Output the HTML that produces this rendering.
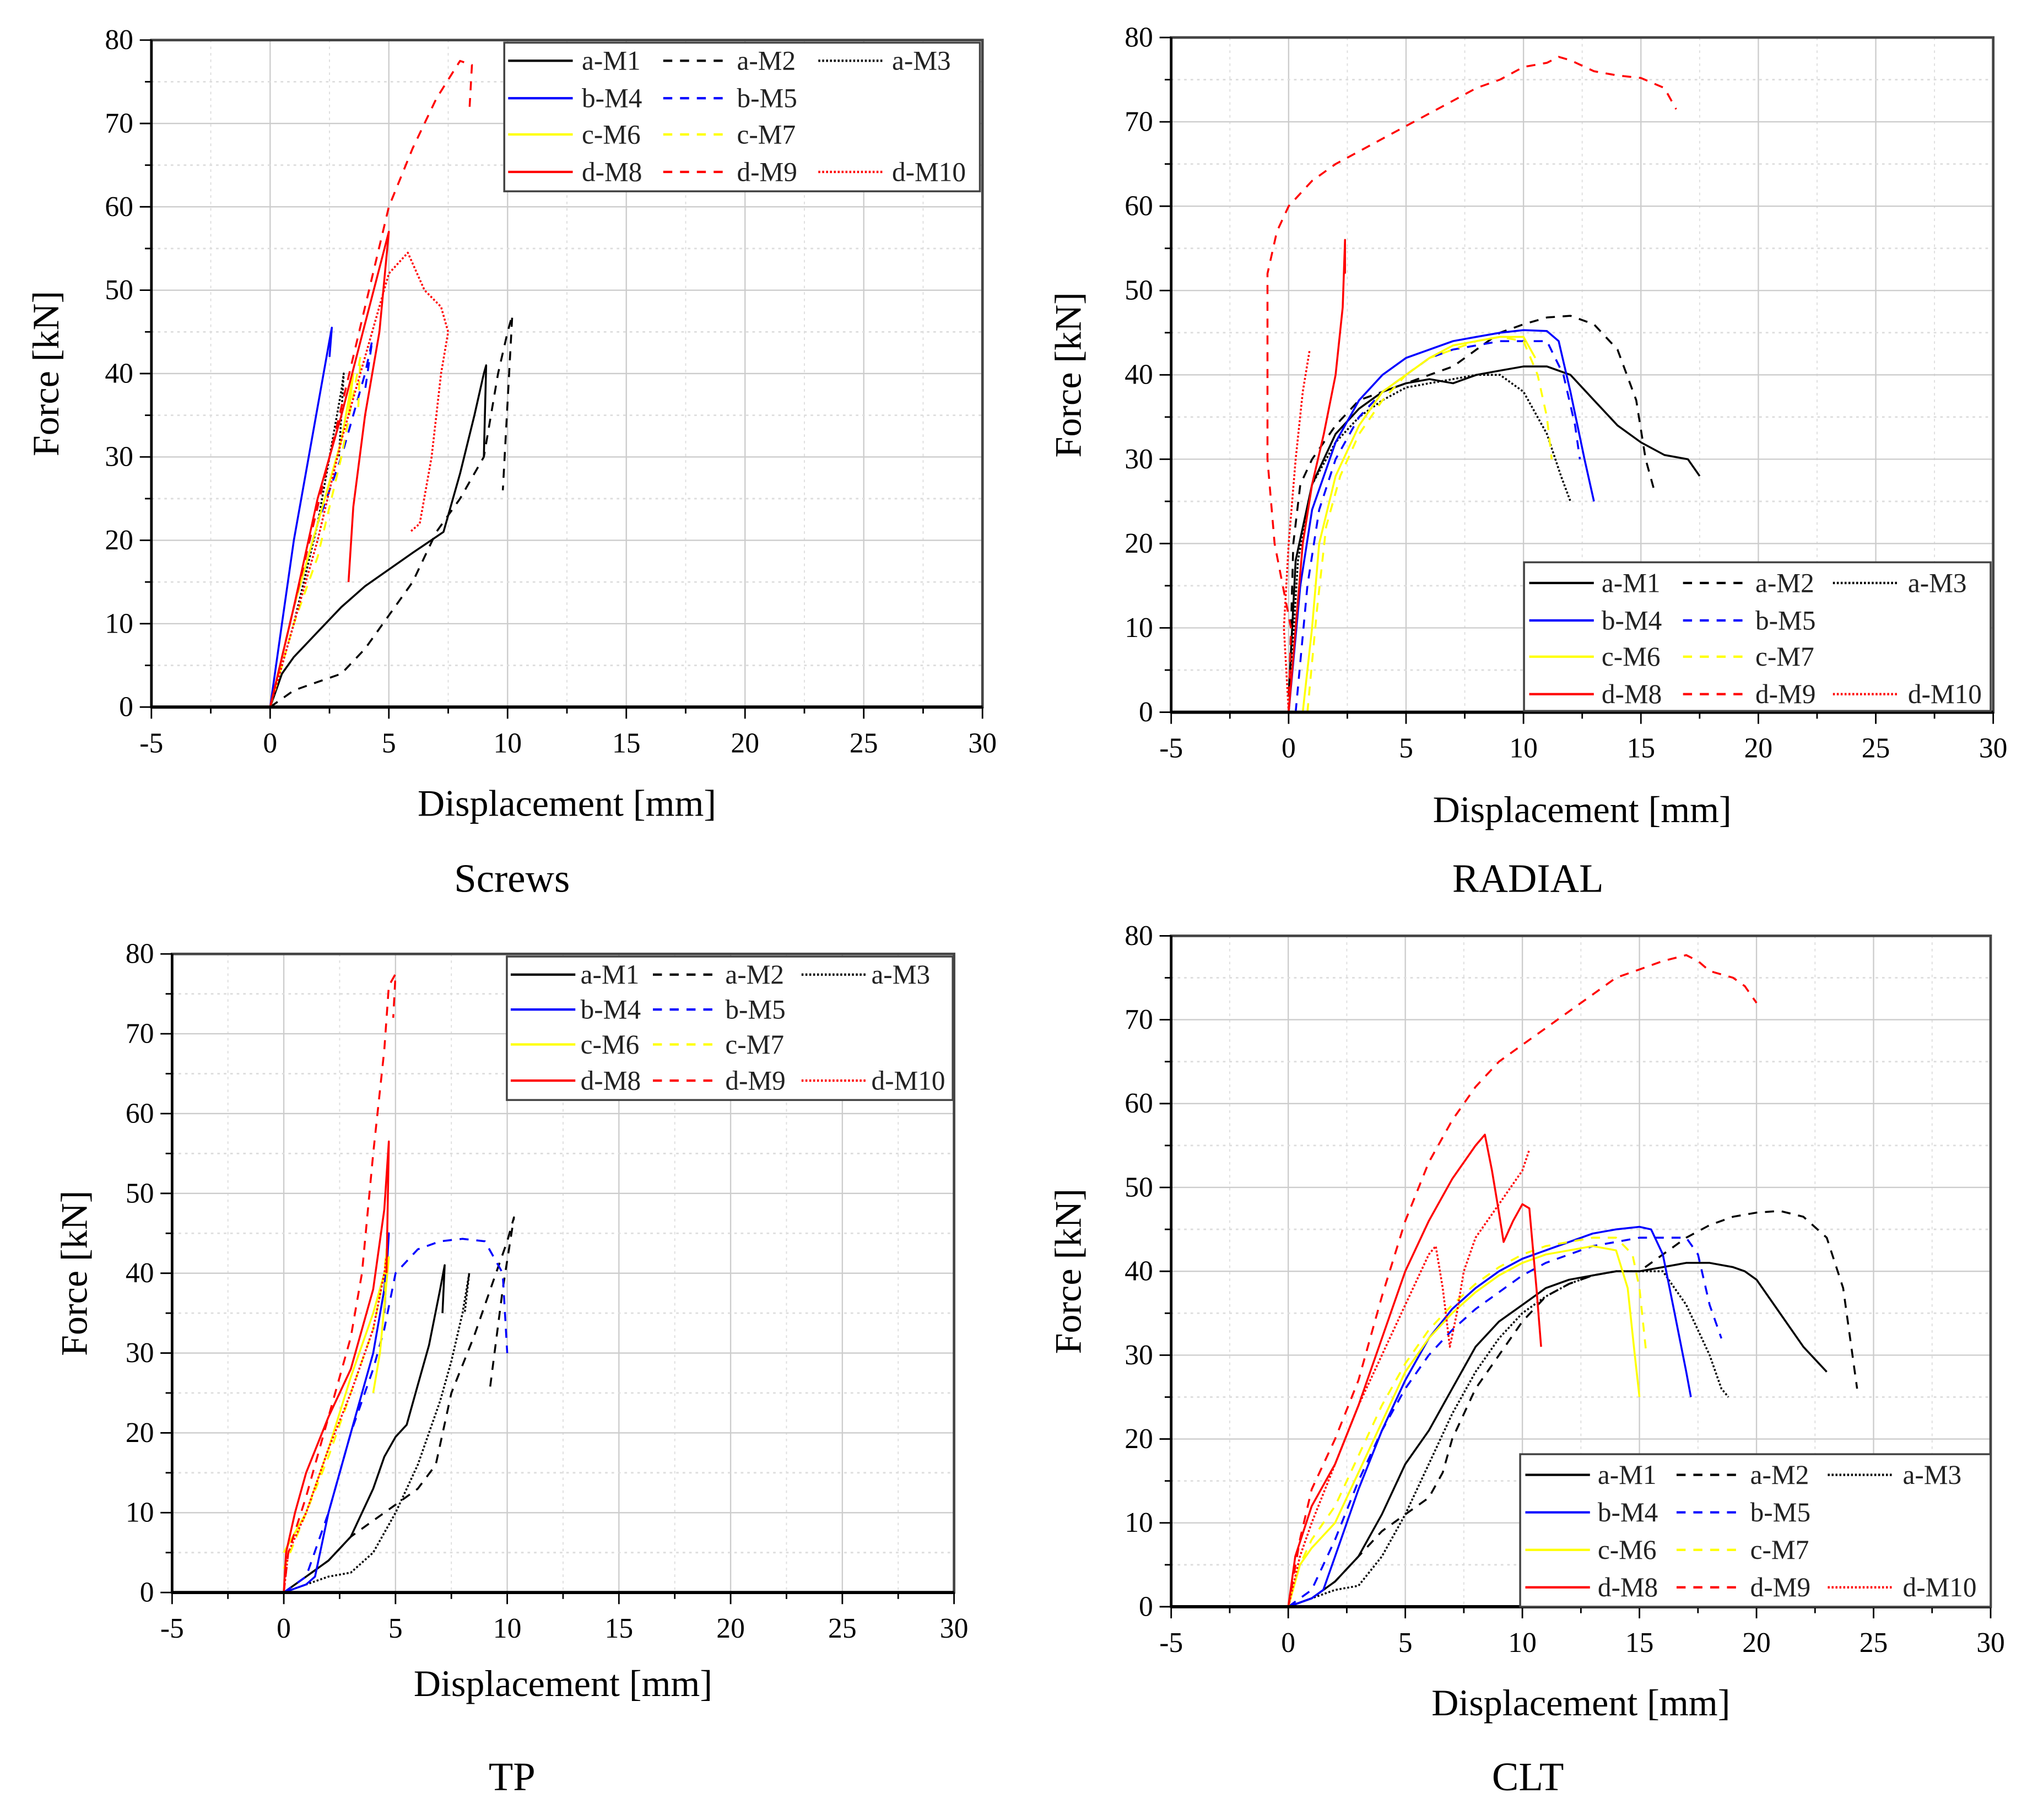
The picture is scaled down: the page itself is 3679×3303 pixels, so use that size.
<!DOCTYPE html>
<html><head><meta charset="utf-8"><style>
html,body{margin:0;padding:0;background:#fff;}
svg{display:block;}
svg text{font-family:"Liberation Serif","Times New Roman","DejaVu Serif",serif;}
</style></head><body>
<svg id="fig" width="3679" height="3303" viewBox="0 0 1568 1408" xmlns="http://www.w3.org/2000/svg"></svg>
<script>
// ---- data: [displacement mm, force kN] ----
const scrM1=[[0,0],[0.5,4],[1,6],[2,9],[3,12],[4,14.5],[5,16.5],[6,18.5],[7.3,21],[8,28],[8.6,35],[9,40],[9.1,41],[9,30]];
const scrM2=[[0,0],[1,2],[2,3],[3,4],[4,7],[5,11],[6,15],[7,21],[8,25],[9,30],[9.6,40],[10,45],[10.2,47],[9.8,26]];
const scrM3=[[0,0],[1,10],[2,22],[3,38],[3.1,40],[2.9,30]];
const scrM4=[[0,0],[0.5,10],[1,20],[1.5,28],[2,36],[2.5,44],[2.6,45.5],[2.5,42]];
const scrM5=[[0,0],[1,12],[2,22],[3,30],[4,40],[4.3,44],[4,38]];
const scrM6=[[0,0],[1,12],[2,22],[3,32],[3.5,40],[3.3,35]];
const scrM7=[[0,0],[1,10],[2,18],[3,30],[3.8,42],[3.7,35]];
const scrM8=[[0,0],[1,12],[2,25],[3,35],[4,46],[5,57],[4.6,45],[4,35],[3.5,24],[3.3,15]];
const scrM9=[[0,0],[1,12],[2,24],[3,36],[4,48],[5,60],[6,67],[7,73],[8,77.5],[8.5,77],[8.4,72]];
const scrM10=[[0,0],[1,10],[2,20],[3,32],[4,42],[5,52],[5.8,54.5],[6.5,50],[7.2,48],[7.5,45],[7.2,40],[6.8,30],[6.3,22],[5.9,21]];

const radM1=[[0,2],[0.3,18],[1,27],[2,33],[3,36],[4,38],[5,39],[6,39.5],[7,39],[8,40],[9,40.5],[10,41],[11,41],[12,40],[13,37],[14,34],[15,32],[16,30.5],[17,30],[17.5,28]];
const radM2=[[0,0],[0.2,20],[0.5,27],[1,30],[2,34],[3,37],[4,38],[5,39],[6,40],[7,41],[8,43],[9,45],[10,46],[11,46.8],[12,47],[13,46],[14,43],[14.8,37],[15.2,30],[15.6,26]];
const radM3=[[0,0],[0.4,18],[1,27],[2,32],[3,35],[4,37],[5,38.5],[6,39],[7,39.5],[8,40],[9,40],[10,38],[11,33],[11.6,28],[12,25]];
const radM4=[[0,0],[0.5,15],[1,24],[2,32],[3,37],[4,40],[5,42],[6,43],[7,44],[8,44.5],[9,45],[10,45.3],[11,45.2],[11.5,44],[12,38],[12.6,30],[13,25]];
const radM5=[[0.3,0],[0.8,15],[1.3,24],[2,30],[3,35],[4,38],[5,40],[6,42],[7,43],[8,43.5],[9,44],[10,44],[11,44],[11.7,40],[12.2,34],[12.4,30]];
const radM6=[[0.6,0],[1,10],[1.3,20],[2,28],[3,34],[4,38],[5,40],[6,42],[7,43.5],[8,44],[9,44.5],[10,44.5],[10.5,42]];
const radM7=[[0.8,0],[1.2,12],[1.6,22],[2.2,28],[3,33],[4,37],[5,40],[6,42],[7,43],[8,44],[9,44.5],[10,44],[10.6,40],[11,35],[11.2,30]];
const radM8=[[0,0],[0.3,10],[0.6,20],[1,27],[1.5,33],[2,40],[2.3,48],[2.4,56],[2.4,52]];
const radM9=[[0,0],[0.1,10],[-0.6,20],[-0.9,30],[-0.9,40],[-0.9,52],[-0.5,57],[0,60],[1,63],[2,65],[3,66.5],[4,68],[5,69.5],[6,71],[7,72.5],[8,74],[9,75],[10,76.5],[11,77],[11.5,77.7],[12,77.3],[13,76],[14,75.5],[15,75.2],[16,74],[16.5,71.5]];
const radM10=[[0,0],[-0.2,10],[0,20],[0.3,30],[0.6,38],[0.9,43]];

const tpM1=[[0,0],[1,2],[2,4],[3,7],[4,13],[4.5,17],[5,19.5],[5.5,21],[6,26],[6.5,31],[7,38],[7.2,41],[7.1,35]];
const tpM2=[[0,0],[1,2],[2,4],[3,7],[4,9],[5,11],[6,13],[6.8,16],[7.5,25],[8.5,32],[9.5,40],[10,44],[10.3,47],[9.8,38],[9.2,25]];
const tpM3=[[0,0],[1,1],[2,2],[3,2.5],[4,5],[5,10],[6,16],[7,24],[7.5,29],[8,35],[8.3,40],[8.1,35]];
const tpM4=[[0,0],[1,1],[1.4,2],[2,10],[3,20],[4,30],[4.5,38],[4.7,45],[4.5,35]];
const tpM5=[[0,0],[1,2],[2,10],[3,20],[4,28],[4.5,33],[5,40],[6,43],[7,44],[8,44.3],[9,44],[9.8,40],[10,30]];
const tpM6=[[0,5],[1,10],[2,18],[3,27],[4,35],[4.5,40],[4.7,42],[4.3,30],[4,25]];
const tpM7=[[0,3],[1,10],[2,17],[3,25],[4,33],[4.5,40],[4.6,43],[4.5,35]];
const tpM8=[[0,0],[0.1,5],[0.5,10],[1,15],[2,22],[3,28],[4,38],[4.5,48],[4.7,56.5],[4.6,40]];
const tpM9=[[0,0],[0.2,5],[1,12],[2,22],[3,32],[3.5,40],[4,55],[4.5,68],[4.7,76],[5,77.5],[4.9,72]];
const tpM10=[[0,0],[0.2,5],[1,10],[2,18],[3,25],[4,33],[4.5,40],[4.6,42]];

const cltM1=[[0,0],[1,1],[2,3],[3,6],[4,11],[5,17],[6,21],[7,26],[8,31],[9,34],[10,36],[11,38],[12,39],[13,39.5],[14,40],[15,40],[16,40.5],[17,41],[18,41],[19,40.5],[19.5,40],[20,39],[21,35],[22,31],[23,28]];
const cltM2=[[0,0],[1,1],[2,3],[3,6],[4,9],[5,11],[6,13],[6.6,16],[7,20],[8,26],[9,30],[10,34],[11,37],[12,38.5],[13,39.5],[14,40],[15,40],[16,42],[17,44],[18,45.5],[19,46.5],[20,47],[21,47.2],[22,46.5],[23,44],[23.7,38],[24,32],[24.3,26]];
const cltM3=[[0,0],[1,1],[2,2],[3,2.5],[4,6],[5,11],[6,17],[7,23],[8,28],[9,32],[10,35],[11,37],[12,38.5],[13,39.5],[14,40],[15,40],[16,40],[17,36],[18,30],[18.5,26],[18.8,25]];
const cltM4=[[0,0],[1,1],[1.5,2],[2,6],[3,14],[4,21],[5,27],[6,32],[7,35.5],[8,38],[9,40],[10,41.5],[11,42.5],[12,43.5],[13,44.5],[14,45],[15,45.3],[15.5,45],[16,42],[16.5,35],[17,28],[17.2,25]];
const cltM5=[[0,0],[1,2],[2,8],[3,15],[4,21],[5,26],[6,30],[7,33],[8,35.5],[9,37.5],[10,39.5],[11,41],[12,42],[13,43],[14,43.5],[15,44],[16,44],[17,44],[17.5,42],[18,36],[18.5,32]];
const cltM6=[[0,0],[0.5,5],[1,7],[2,10],[3,16],[4,22],[5,28],[6,32],[7,35],[8,37.5],[9,39.5],[10,41],[11,42],[12,42.5],[13,43],[14,42.5],[14.5,38],[14.8,30],[15,25]];
const cltM7=[[0,0],[0.5,5],[1,8],[2,12],[3,18],[4,24],[5,29],[6,33],[7,36],[8,38.5],[9,40.5],[10,42],[11,43],[12,43.5],[13,44],[14,44],[14.7,42],[15,38],[15.3,30]];
const cltM8=[[0,0],[0.3,6],[1,12],[2,17],[3,24],[4,32],[5,40],[6,46],[7,51],[8,55],[8.4,56.3],[8.7,52],[9,47],[9.2,43.5],[9.6,46],[10,48],[10.3,47.5],[10.6,38],[10.8,31]];
const cltM9=[[0,0],[0.5,8],[1,14],[2,20],[3,27],[4,37],[5,46],[6,53],[7,58],[8,62],[9,65],[10,67],[11,69],[12,71],[13,73],[14,75],[15,76],[16,77],[17,77.7],[17.5,77],[18,75.8],[19,75],[19.5,74],[20,72]];
const cltM10=[[0,0],[0.5,6],[1,10],[2,17],[3,24],[4,30],[5,36],[6,42],[6.3,43],[6.6,38],[6.9,31],[7.2,35],[7.5,40],[8,44],[9,48],[10,52],[10.3,54.5]];

const seriesNames=["a-M1","a-M2","a-M3","b-M4","b-M5","c-M6","c-M7","d-M8","d-M9","d-M10"];
const xTicks=[-5,0,5,10,15,20,25,30];
const yTicks=[0,10,20,30,40,50,60,70,80];

const styles=[["#000",""],["#000","7,6"],["#000","1.5,1.5"],["#0000ff",""],["#0000ff","7,6"],["#ffff00",""],["#ffff00","7,6"],["#ff0000",""],["#ff0000","7,6"],["#ff0000","1.5,1.5"]];

const panels=[
 {id:"screws",title:"Screws",L:117,R:760,T:31,B:547,data:[scrM1,scrM2,scrM3,scrM4,scrM5,scrM6,scrM7,scrM8,scrM9,scrM10],
  lg:[390,33,368,115],cols:[[393,450],[513,570],[633,690]],rows:[47,76,104,133],yt:35,xt:622,tt:680,tx:396},
 {id:"radial",title:"RADIAL",L:906,R:1542,T:29,B:551,data:[radM1,radM2,radM3,radM4,radM5,radM6,radM7,radM8,radM9,radM10],
  lg:[1179,435,361,115],cols:[[1183,1239],[1302,1358],[1418,1476]],rows:[451,480,508,537],yt:826,xt:627,tt:680,tx:1182},
 {id:"tp",title:"TP",L:133,R:738,T:738,B:1232,data:[tpM1,tpM2,tpM3,tpM4,tpM5,tpM6,tpM7,tpM8,tpM9,tpM10],
  lg:[392,740,345,111],cols:[[395,449],[505,561],[620,674]],rows:[754,781,808,836],yt:57,xt:1303,tt:1375,tx:396},
 {id:"clt",title:"CLT",L:906,R:1540,T:724,B:1243,data:[cltM1,cltM2,cltM3,cltM4,cltM5,cltM6,cltM7,cltM8,cltM9,cltM10],
  lg:[1176,1125,364,118],cols:[[1180,1236],[1297,1354],[1414,1472]],rows:[1141,1170,1199,1228],yt:826,xt:1318,tt:1375,tx:1182}
];
const NS="http://www.w3.org/2000/svg";
const FF='"Liberation Serif","Times New Roman",serif';
const fig=document.getElementById("fig");
function mk(tag,attrs,parent,txt){const e=document.createElementNS(NS,tag);for(const k in attrs)e.setAttribute(k,attrs[k]);if(txt!==undefined){e.textContent=txt;e.setAttribute("font-family",FF);}parent.appendChild(e);return e;}

panels.forEach(p=>{
 const g=mk("g",{},fig);
 
 
 const sx=v=>p.L+(v+5)/35*(p.R-p.L);
 const sy=v=>p.B-v/80*(p.B-p.T);
 for(let v=-2.5;v<30;v+=2.5){const maj=(v%5===0);
  const l=mk("line",{x1:sx(v),x2:sx(v),y1:p.T,y2:p.B,stroke:maj?"#ccc":"#ddd","stroke-width":maj?1:0.8,"stroke-dasharray":maj?"":"2,3"},g);
  }
 for(let v=5;v<80;v+=5){const maj=(v%10===0);
  const l=mk("line",{x1:p.L,x2:p.R,y1:sy(v),y2:sy(v),stroke:maj?"#ccc":"#ddd","stroke-width":maj?1:1.2,"stroke-dasharray":maj?"":"2,3"},g);
  }
 p.data.forEach((d,i)=>{
  const pts=d.map(q=>sx(q[0]).toFixed(1)+","+sy(q[1]).toFixed(1)).join(" ");
  const pl=mk("polyline",{points:pts,fill:"none",stroke:styles[i][0],"stroke-width":1.5,"stroke-dasharray":styles[i][1],"stroke-linejoin":"round"},g);
  
  
 });
 const fr=mk("rect",{x:p.L,y:p.T,width:p.R-p.L,height:p.B-p.T,fill:"none",stroke:"#444","stroke-width":2},g);
 
 mk("line",{x1:p.L,x2:p.R,y1:p.B,y2:p.B,stroke:"#000","stroke-width":2.5},g);
 mk("line",{x1:p.L,x2:p.L,y1:p.T,y2:p.B,stroke:"#000","stroke-width":2},g);
 for(let v=-5;v<=30;v+=2.5){const maj=(v%5===0);mk("line",{x1:sx(v),x2:sx(v),y1:p.B,y2:p.B+(maj?9:5),stroke:"#000","stroke-width":1.2},g);}
 xTicks.forEach(v=>{const t=mk("text",{x:sx(v),y:p.B+35,"text-anchor":"middle","font-size":22},g,String(v));
  });
 for(let v=0;v<=80;v+=5){const maj=(v%10===0);mk("line",{x1:p.L-(maj?9:5),x2:p.L,y1:sy(v),y2:sy(v),stroke:"#000","stroke-width":1.2},g);}
 yTicks.forEach(v=>{const t=mk("text",{x:p.L-14,y:sy(v)+7,"text-anchor":"end","font-size":22},g,String(v));
  });
 const xt=mk("text",{x:(p.L+p.R)/2,y:p.xt+9,"text-anchor":"middle","font-size":29},g,"Displacement [mm]");
 
 const ymid=(p.T+p.B)/2;
 const yt=mk("text",{x:p.yt,y:ymid,"text-anchor":"middle","font-size":29,transform:"rotate(-90 "+p.yt+" "+ymid+") translate(0 10)"},g,"Force [kN]");
 
 const tt=mk("text",{x:p.tx,y:p.tt+10,"text-anchor":"middle","font-size":31},g,p.title);
 
 const lg=mk("g",{},g);
 
 mk("rect",{x:p.lg[0],y:p.lg[1],width:p.lg[2],height:p.lg[3],fill:"#fff",stroke:"#444","stroke-width":1.5},lg);
 const layout=[[0,0],[1,0],[2,0],[0,1],[1,1],[0,2],[1,2],[0,3],[1,3],[2,3]];
 layout.forEach((c,i)=>{
  const col=p.cols[c[0]],y=p.rows[c[1]];
  const e=mk("g",{},lg);
  
  
  mk("line",{x1:col[0],x2:col[0]+50,y1:y,y2:y,stroke:styles[i][0],"stroke-width":1.8,"stroke-dasharray":styles[i][1]},e);
  mk("text",{x:col[1],y:y+7,"font-size":21,fill:"#222"},e,seriesNames[i]);
 });
});
</script>
</body></html>
